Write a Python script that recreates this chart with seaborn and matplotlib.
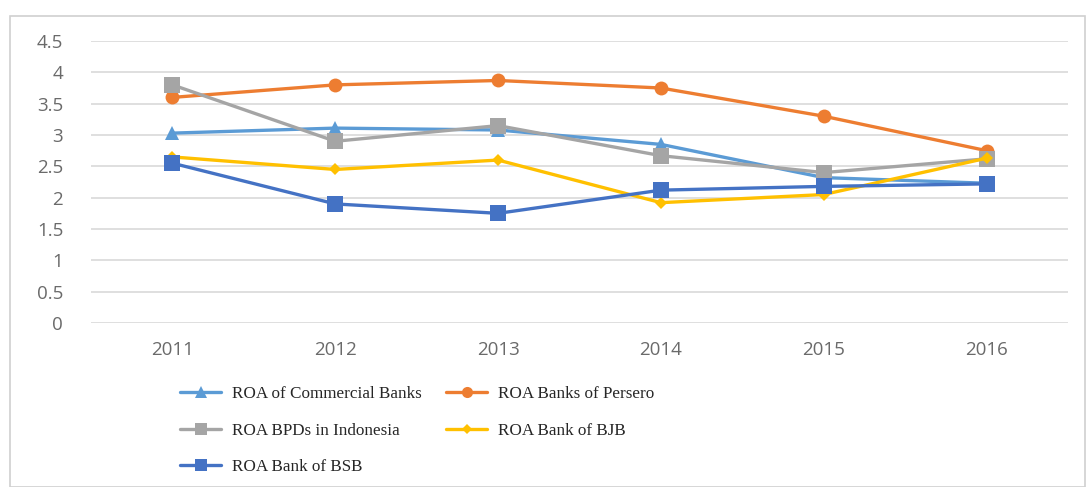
import matplotlib
matplotlib.use("Agg")
import matplotlib.pyplot as plt
from matplotlib.patches import Rectangle
import seaborn as sns
import pandas as pd

years = [2011, 2012, 2013, 2014, 2015, 2016]
roa_commercial = [3.03, 3.11, 3.08, 2.85, 2.32, 2.23]
roa_persero = [3.60, 3.80, 3.87, 3.75, 3.30, 2.75]
roa_bpd = [3.80, 2.90, 3.15, 2.67, 2.40, 2.62]
roa_bjb = [2.65, 2.45, 2.60, 1.92, 2.05, 2.63]
roa_bsb = [2.55, 1.90, 1.75, 2.12, 2.18, 2.22]
yticks = [0, 0.5, 1, 1.5, 2, 2.5, 3, 3.5, 4, 4.5]
ytick_labels = ["0", "0.5", "1", "1.5", "2", "2.5", "3", "3.5", "4", "4.5"]

names = ["ROA of Commercial Banks", "ROA Banks of Persero", "ROA BPDs in Indonesia",
         "ROA Bank of BJB", "ROA Bank of BSB"]
series = [roa_commercial, roa_persero, roa_bpd, roa_bjb, roa_bsb]
colors = ["#5B9BD5", "#ED7D31", "#A5A5A5", "#FFC000", "#4472C4"]
markers = ["^", "o", "s", "D", "s"]
msizes = [10, 10, 11, 6, 11]

sns.set_theme(style="white")
plt.rcParams["font.family"] = ["Open Sans", "DejaVu Sans"]

fig = plt.figure(figsize=(10.86, 4.87), dpi=100)
ax = fig.add_axes([91 / 1086, 1 - 323 / 487, (1068 - 91) / 1086, (323 - 41) / 487])

handles = {}
for name, vals, c, m, ms in zip(names, series, colors, markers, msizes):
    df = pd.DataFrame({"year": years, "roa": vals})
    sns.lineplot(data=df, x="year", y="roa", ax=ax, color=c, marker=m,
                 markersize=ms, markeredgewidth=0, linewidth=2.4, label=name,
                 legend=False)
    handles[name] = ax.lines[-1]

ax.set_xlim(2010.5, 2016.5)
ax.set_ylim(0, 4.5)
ax.set_yticks(yticks)
ax.set_yticklabels(ytick_labels)
ax.set_xticks(years)
ax.set_xticklabels([str(y) for y in years])
ax.set_xlabel("")
ax.set_ylabel("")
ax.grid(axis="y", color="#D9D9D9", linewidth=1.2)
ax.set_axisbelow(True)
for s in ax.spines.values():
    s.set_visible(False)
ax.tick_params(axis="both", length=0, labelsize=13.5, colors="#6A6A6A")
ax.tick_params(axis="y", pad=20)
ax.tick_params(axis="x", pad=13)

order = ["ROA of Commercial Banks", "ROA BPDs in Indonesia", "ROA Bank of BSB",
         "ROA Banks of Persero", "ROA Bank of BJB"]
leg = fig.legend([handles[n] for n in order], order, ncol=2,
                 loc="upper left", bbox_to_anchor=(165 / 1086, 1 - 371 / 487),
                 frameon=False, prop={"family": "Liberation Serif", "size": 12.3},
                 handlelength=2.4, columnspacing=1.4, labelspacing=1.2,
                 handletextpad=0.65, markerscale=0.8)

fig.patches.append(Rectangle((10 / 1086, 0), 1 - 10 / 1086 - 0.001, 1 - 16 / 487,
                             transform=fig.transFigure, fill=False,
                             edgecolor="#D0D0D0", linewidth=1.2))

fig.savefig("out.png", dpi=100)
